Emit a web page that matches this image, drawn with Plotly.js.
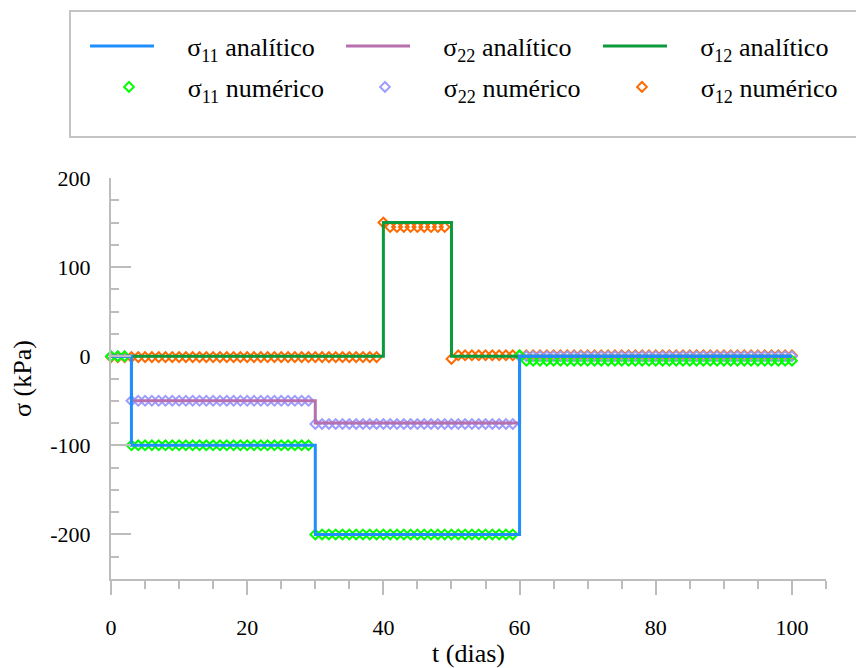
<!DOCTYPE html>
<html>
<head>
<meta charset="utf-8">
<script src="https://cdn.plot.ly/plotly-3.0.1.min.js"></script>
<style>
html,body{margin:0;padding:0;background:#fff;}
#chart{width:856px;height:668px;}
#chart text{font-family:"Liberation Serif","Times New Roman",Times,serif !important;}
</style>
</head>
<body>
<div id="chart"></div>
<script>
// ---- Data ----
// Analytical step solutions (value holds from each time until the next)
const tAna11 = [0, 3, 30, 60, 100];
const s11Ana = [0, -100, -200, 0, 0];
const tAna22 = [0, 3, 30, 60, 100];
const s22Ana = [0, -50, -75, 0, 0];
const tAna12 = [0, 40, 50, 100];
const s12Ana = [0, 150, 0, 0];

// Numerical results, one per day
const tNum = [0,1,2,3,4,5,6,7,8,9,10,11,12,13,14,15,16,17,18,19,20,
  21,22,23,24,25,26,27,28,29,30,31,32,33,34,35,36,37,38,39,40,
  41,42,43,44,45,46,47,48,49,50,51,52,53,54,55,56,57,58,59,60,
  61,62,63,64,65,66,67,68,69,70,71,72,73,74,75,76,77,78,79,80,
  81,82,83,84,85,86,87,88,89,90,91,92,93,94,95,96,97,98,99,100];
const s11Num = [0,0,0,
  -100,-100,-100,-100,-100,-100,-100,-100,-100,-100,
  -100,-100,-100,-100,-100,-100,-100,-100,-100,-100,
  -100,-100,-100,-100,-100,-100,-100,
  -200,-200,-200,-200,-200,-200,-200,-200,-200,-200,
  -200,-200,-200,-200,-200,-200,-200,-200,-200,-200,
  -200,-200,-200,-200,-200,-200,-200,-200,-200,-200,
  1,
  -5,-5,-5,-5,-5,-5,-5,-5,-5,-5,
  -5,-5,-5,-5,-5,-5,-5,-5,-5,-5,
  -5,-5,-5,-5,-5,-5,-5,-5,-5,-5,
  -5,-5,-5,-5,-5,-5,-5,-5,-5,-5];
const s22Num = [0,0,0,
  -50,-50,-50,-50,-50,-50,-50,-50,-50,-50,
  -50,-50,-50,-50,-50,-50,-50,-50,-50,-50,
  -50,-50,-50,-50,-50,-50,-50,
  -76,-76,-76,-76,-76,-76,-76,-76,-76,-76,
  -76,-76,-76,-76,-76,-76,-76,-76,-76,-76,
  -76,-76,-76,-76,-76,-76,-76,-76,-76,-76,
  0,0,0,0,0,0,0,0,0,0,
  0,0,0,0,0,0,0,0,0,0,
  0,0,0,0,0,0,0,0,0,0,
  0,0,0,0,0,0,0,0,0,0,
  0];
const s12Num = [-1,-1,-1,-1,-1,-1,-1,-1,-1,-1,
  -1,-1,-1,-1,-1,-1,-1,-1,-1,-1,
  -1,-1,-1,-1,-1,-1,-1,-1,-1,-1,
  -1,-1,-1,-1,-1,-1,-1,-1,-1,-1,
  150,
  145,145,145,145,145,145,145,145,145,
  -3,
  1,1,1,1,1,1,1,1,1,1,
  1,1,1,1,1,1,1,1,1,1,
  1,1,1,1,1,1,1,1,1,1,
  1,1,1,1,1,1,1,1,1,1,
  1,1,1,1,1,1,1,1,1,1];

// Tick labels
const xTickVals = [0, 20, 40, 60, 80, 100];
const xTickText = ['0', '20', '40', '60', '80', '100'];
const yTickVals = [-200, -100, 0, 100, 200];
const yTickText = ['-200', '-100', '0', '100', '200'];

const SP1 = '\u2003\u200A';
const SP2 = '\u2002\u2005\u200A';
const names = {
  a11: SP1 + 'σ<sub>11</sub> analítico',
  a22: SP1 + 'σ<sub>22</sub> analítico',
  a12: SP1 + 'σ<sub>12</sub> analítico',
  n11: SP2 + 'σ<sub>11</sub> numérico',
  n22: SP2 + 'σ<sub>22</sub> numérico',
  n12: SP2 + 'σ<sub>12</sub> numérico'
};

const FONT = 'Liberation Serif';
const C = {
  blue: '#1f8fff', mauve: '#b86fae', green: '#0b9a3c',
  lime: '#00ff00', lav: '#9d9dff', orange: '#ff6a00'
};

function mk(x, y, color, name, leg) {
  return {x: x, y: y, type: 'scatter', mode: 'markers', name: name, legend: leg,
    marker: {symbol: 'diamond-open', size: 7.5, color: color, line: {width: 2, color: color}},
    cliponaxis: false, hoverinfo: 'skip'};
}
function ln(x, y, color, name, leg) {
  return {x: x, y: y, type: 'scatter', mode: 'lines', name: name, legend: leg,
    line: {shape: 'hv', width: 3, color: color}, cliponaxis: false, hoverinfo: 'skip'};
}

const traces = [
  mk(tNum, s12Num, C.orange, names.n12, 'legend6'),
  mk(tNum, s22Num, C.lav, names.n22, 'legend5'),
  mk(tNum, s11Num, C.lime, names.n11, 'legend4'),
  ln(tAna12, s12Ana, C.green, names.a12, 'legend3'),
  ln(tAna22, s22Ana, C.mauve, names.a22, 'legend2'),
  ln(tAna11, s11Ana, C.blue, names.a11, 'legend')
];

function leg(x, y) {
  return {
    orientation: 'h', xref: 'container', yref: 'container',
    xanchor: 'left', yanchor: 'middle',
    x: x / 856, y: 1 - y / 668,
    itemwidth: 64,
    bgcolor: 'rgba(0,0,0,0)', borderwidth: 0,
    font: {family: FONT, size: 26, color: '#000'}
  };
}

const axisGray = '#bdbdbd';
const layout = {
  width: 856, height: 668,
  margin: {l: 111, r: 30, t: 178, b: 89, pad: 0},
  paper_bgcolor: '#fff', plot_bgcolor: '#fff',
  font: {family: FONT, size: 22, color: '#000'},
  showlegend: true,
  legend: leg(85, 46), legend2: leg(341, 46), legend3: leg(598, 46),
  legend4: leg(92, 87), legend5: leg(348, 87), legend6: leg(605, 87),
  xaxis: {
    range: [0, 105], autorange: false,
    tickmode: 'array', tickvals: xTickVals, ticktext: xTickText,
    showline: true, linecolor: axisGray, linewidth: 2,
    ticks: 'outside', ticklen: 14, tickwidth: 2, tickcolor: axisGray,
    minor: {tickmode: 'linear', tick0: 0, dtick: 5, ticks: 'outside', ticklen: 8, tickwidth: 2, tickcolor: axisGray},
    showgrid: false, zeroline: false,
    ticklabelstandoff: 14,
    tickfont: {family: FONT, size: 22, color: '#000'},
    title: {text: 't (dias)', font: {family: FONT, size: 26, color: '#000'}, standoff: 6},
    automargin: false
  },
  yaxis: {
    range: [-250, 200], autorange: false,
    tickmode: 'array', tickvals: yTickVals, ticktext: yTickText,
    showline: true, linecolor: axisGray, linewidth: 2,
    ticks: 'inside', ticklen: 20, tickwidth: 2, tickcolor: axisGray,
    minor: {tickmode: 'linear', tick0: 0, dtick: 25, ticks: 'inside', ticklen: 8, tickwidth: 2, tickcolor: axisGray},
    showgrid: false, zeroline: false,
    ticklabelstandoff: 14,
    tickfont: {family: FONT, size: 22, color: '#000'},
    title: {text: 'σ (kPa)', font: {family: FONT, size: 26, color: '#000'}, standoff: 0},
    automargin: false
  },
  shapes: [{
    type: 'rect', xref: 'paper', yref: 'paper',
    x0: (70 - 111) / 715, x1: (862 - 111) / 715,
    y0: (579 - 137) / 401, y1: (579 - 11) / 401,
    line: {color: '#c4c4c4', width: 2}, fillcolor: 'rgba(0,0,0,0)', layer: 'below'
  }]
};

// pad the y tick labels on the left so the y title sits further out
layout.yaxis.ticktext = yTickText.map(function (s) { return '\u2002' + s; });

Plotly.newPlot('chart', traces, layout, {displayModeBar: false, staticPlot: true});
</script>
</body>
</html>
